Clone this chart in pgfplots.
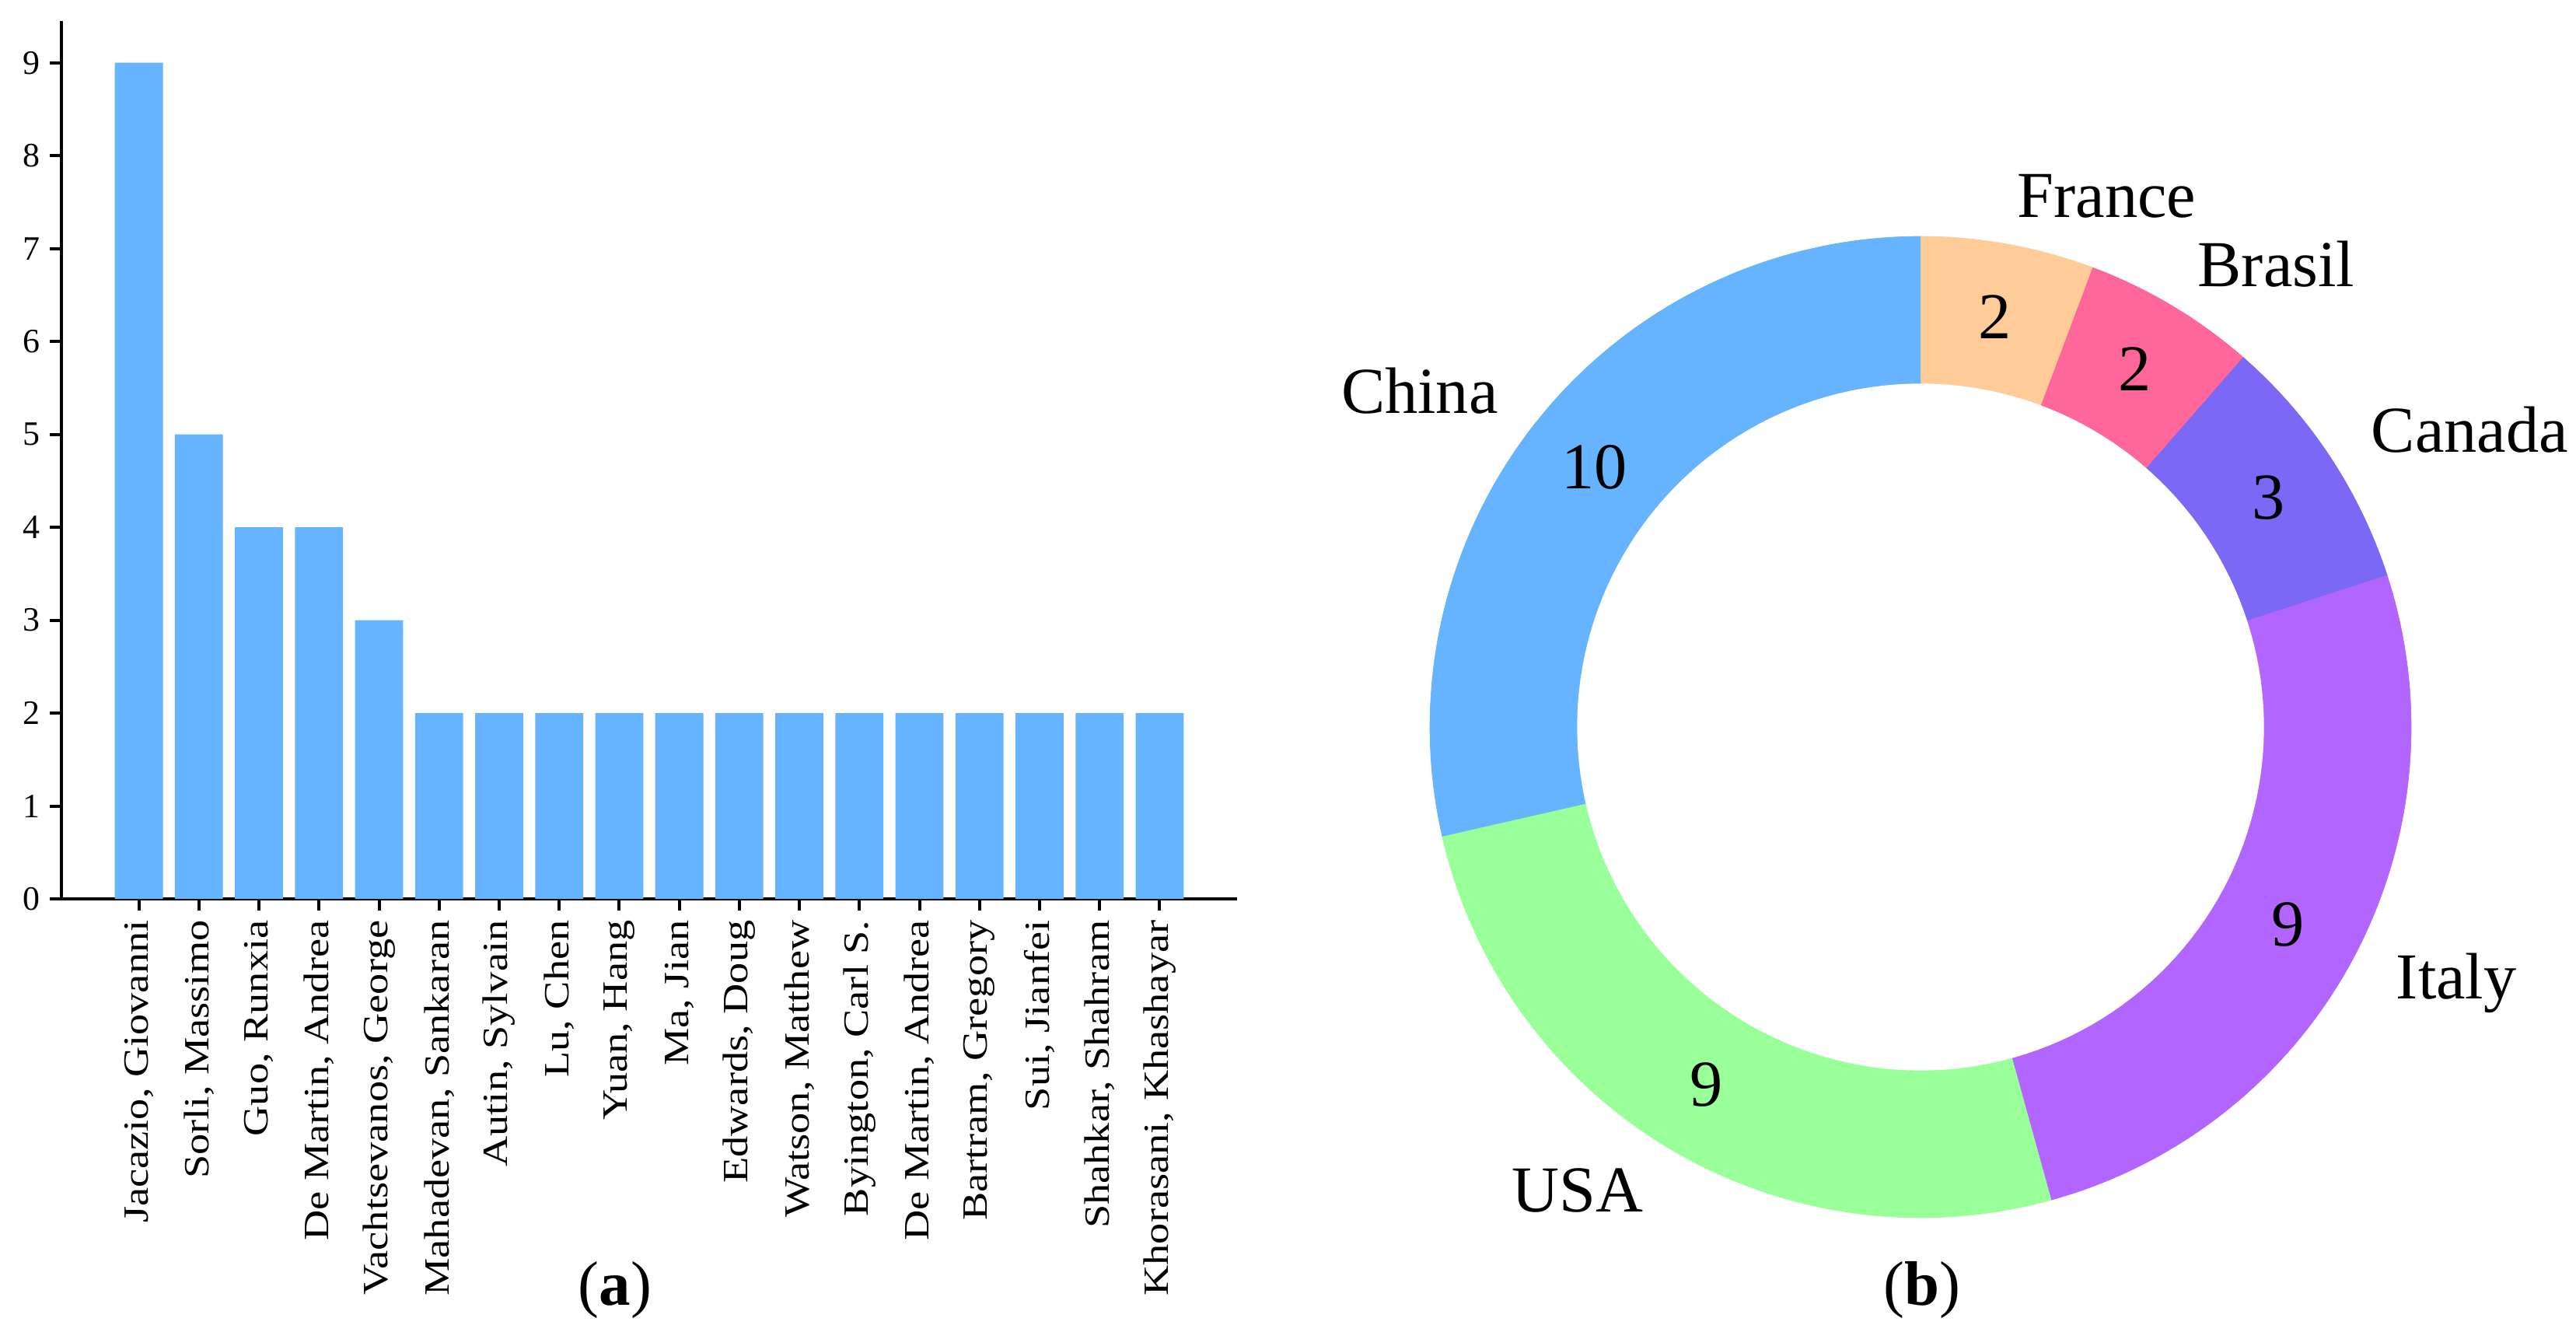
\documentclass[border=0pt]{standalone}
\usepackage{fontspec}
\setmainfont{Liberation Serif}
\newfontfamily\namefont{Liberation Serif}[FakeStretch=1.19]
\usepackage{pgfplots}
\pgfplotsset{compat=1.18}
\definecolor{barblue}{HTML}{66B3FF}
\definecolor{cChina}{HTML}{66B3FF}
\definecolor{cFrance}{HTML}{FFCC99}
\definecolor{cBrasil}{HTML}{FF6699}
\definecolor{cCanada}{HTML}{7B68F5}
\definecolor{cItaly}{HTML}{B266FF}
\definecolor{cUSA}{HTML}{99FF99}

% one ring slice: #1 count before it, #2 value, #3 colour, #4 name, #5 label anchor
\newcommand\slice[5]{%
  \addplot[fill=#3, draw=#3, line width=0.2pt, domain={90-#1*360/35}:{90-(#1+#2)*360/35}, samples=90]
    ({cos(x)},{sin(x)}) -- (0,0) -- cycle;
  \node[anchor=#5, font=\fontsize{24}{28}\selectfont, inner sep=0pt]
    at ({1.1*cos(90-(#1+#2/2)*360/35)},{1.1*sin(90-(#1+#2/2)*360/35)}) {#4};
  \node[font=\fontsize{24}{28}\selectfont, inner sep=0pt]
    at ({0.85*cos(90-(#1+#2/2)*360/35)},{0.85*sin(90-(#1+#2/2)*360/35)}) {#2};
}

\begin{document}
\begin{tikzpicture}
\useasboundingbox (0,0) rectangle (331.3mm,-171.3mm);

\begin{axis}[
    at={(7.9mm,-115.6mm)}, anchor=south west,
    scale only axis, width=151.2mm, height=112.9mm,
    xmin=-1.29, xmax=18.29, ymin=0, ymax=9.45,
    axis x line=bottom, axis y line=left,
    axis line style={-, line width=0.4mm, black},
    ytick={0,...,9},
    xtick={0,...,17},
    xticklabels={{Jacazio, Giovanni},{Sorli, Massimo},{Guo, Runxia},{De Martin, Andrea},
      {Vachtsevanos, George},{Mahadevan, Sankaran},{Autin, Sylvain},{Lu, Chen},{Yuan, Hang},
      {Ma, Jian},{Edwards, Doug},{Watson, Matthew},{Byington, Carl S.},{De Martin, Andrea},
      {Bartram, Gregory},{Sui, Jianfei},{Shahkar, Shahram},{Khorasani, Khashayar}},
    tick style={black, line width=0.4mm},
    major tick length=1.5mm,
    tick align=outside,
    /pgf/number format/assume math mode=true,
    yticklabel style={font=\fontsize{12.5}{15}\selectfont},
    xticklabel style={rotate=90, anchor=east, font=\namefont\fontsize{13}{15}\selectfont},
    ybar, bar width=0.8,
]
\addplot[fill=barblue, draw=none] coordinates {
    (0,9) (1,5) (2,4) (3,4) (4,3) (5,2) (6,2) (7,2) (8,2)
    (9,2) (10,2) (11,2) (12,2) (13,2) (14,2) (15,2) (16,2) (17,2)
};
\end{axis}

\begin{axis}[
    at={(247mm,-93.5mm)}, anchor=center,
    x=63.1mm, y=63.1mm,
    xmin=-1.2, xmax=1.2, ymin=-1.2, ymax=1.2,
    hide axis, clip=false,
]
\slice{0}{2}{cFrance}{France}{west}
\slice{2}{2}{cBrasil}{Brasil}{west}
\slice{4}{3}{cCanada}{Canada}{west}
\slice{7}{9}{cItaly}{Italy}{west}
\slice{16}{9}{cUSA}{USA}{east}
\slice{25}{10}{cChina}{China}{east}
\addplot[fill=white, draw=none, domain=0:360, samples=181] ({0.7*cos(x)},{0.7*sin(x)}) -- cycle;
\end{axis}

\node[anchor=base, font=\fontsize{23}{27}\selectfont] at (79.1mm,-167.8mm) {(\textbf{a})};
\node[anchor=base, font=\fontsize{23}{27}\selectfont] at (247.2mm,-167.8mm) {(\textbf{b})};
\end{tikzpicture}
\end{document}
